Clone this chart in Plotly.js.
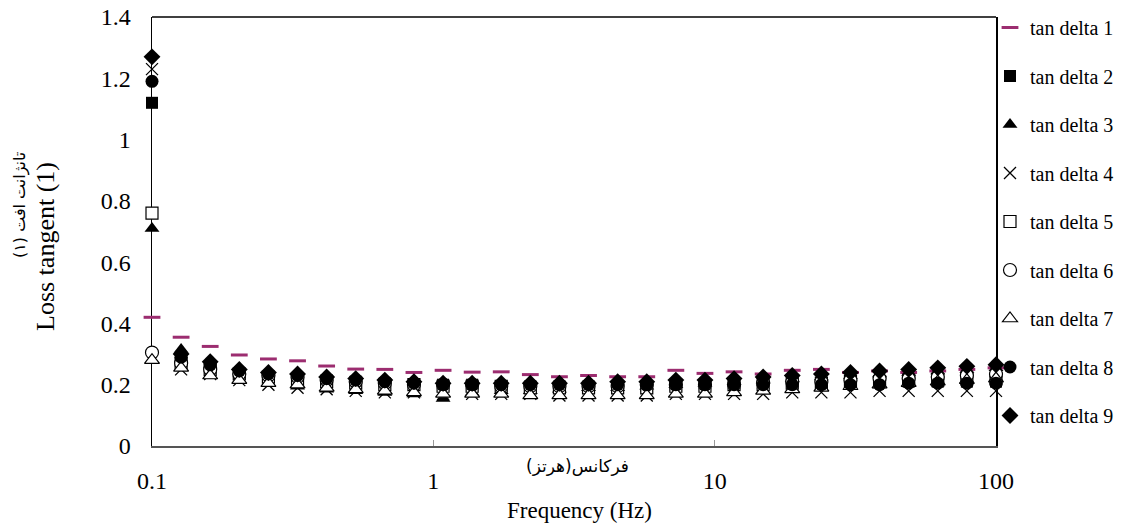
<!DOCTYPE html>
<html>
<head>
<meta charset="utf-8">
<script src="https://cdn.plot.ly/plotly-3.0.1.min.js"></script>
<style>html,body{margin:0;padding:0;background:#fff;}#chart{width:1131px;height:529px;}</style>
</head>
<body>
<div id="chart"></div>
<script>
// Frequency points (Hz), log sweep 0.1 - 100 Hz, 30 points
const freq = [0.1, 0.1269, 0.161, 0.2043, 0.2593, 0.3291, 0.4176, 0.5298, 0.6723, 0.8532,
  1.083, 1.374, 1.743, 2.212, 2.807, 3.562, 4.52, 5.736, 7.278, 9.236,
  11.72, 14.87, 18.87, 23.95, 30.39, 38.56, 48.93, 62.09, 78.79, 100];

const seriesNames = ["tan delta 1","tan delta 2","tan delta 3","tan delta 4","tan delta 5",
  "tan delta 6","tan delta 7","tan delta 8","tan delta 9"];

const td1 = [0.42, 0.355, 0.325, 0.297, 0.284, 0.278, 0.261, 0.251, 0.25, 0.24,
  0.247, 0.241, 0.242, 0.233, 0.226, 0.23, 0.226, 0.226, 0.247, 0.237,
  0.242, 0.235, 0.247, 0.25, 0.24, 0.245, 0.24, 0.245, 0.25, 0.255];
const td2 = [1.12, 0.28, 0.255, 0.235, 0.225, 0.22, 0.215, 0.21, 0.205, 0.2,
  0.2, 0.2, 0.195, 0.195, 0.195, 0.195, 0.195, 0.195, 0.2, 0.2,
  0.2, 0.205, 0.205, 0.205, 0.205, 0.21, 0.21, 0.21, 0.21, 0.21];
const td3 = [0.71, 0.315, 0.23, 0.215, 0.205, 0.195, 0.185, 0.18, 0.175, 0.17,
  0.155, 0.175, 0.18, 0.18, 0.185, 0.19, 0.19, 0.195, 0.2, 0.205,
  0.21, 0.215, 0.22, 0.225, 0.23, 0.235, 0.24, 0.245, 0.25, 0.255];
const td4 = [1.23, 0.25, 0.235, 0.215, 0.2, 0.19, 0.185, 0.18, 0.175, 0.175,
  0.17, 0.17, 0.17, 0.17, 0.165, 0.165, 0.165, 0.165, 0.17, 0.17,
  0.17, 0.17, 0.175, 0.175, 0.175, 0.18, 0.18, 0.18, 0.18, 0.18];
const td5 = [0.76, 0.27, 0.25, 0.235, 0.225, 0.215, 0.21, 0.205, 0.2, 0.2,
  0.195, 0.195, 0.195, 0.19, 0.19, 0.19, 0.19, 0.19, 0.195, 0.195,
  0.2, 0.2, 0.205, 0.205, 0.21, 0.21, 0.215, 0.215, 0.22, 0.22];
const td6 = [0.305, 0.27, 0.25, 0.235, 0.23, 0.225, 0.215, 0.21, 0.205, 0.2,
  0.2, 0.2, 0.195, 0.195, 0.195, 0.195, 0.195, 0.2, 0.2, 0.2,
  0.2, 0.205, 0.21, 0.21, 0.215, 0.22, 0.22, 0.225, 0.23, 0.235];
const td7 = [0.28, 0.255, 0.23, 0.215, 0.205, 0.2, 0.19, 0.185, 0.18, 0.175,
  0.17, 0.17, 0.17, 0.165, 0.165, 0.165, 0.165, 0.165, 0.17, 0.17,
  0.175, 0.18, 0.185, 0.19, 0.195, 0.2, 0.205, 0.21, 0.215, 0.22];
const td8 = [1.19, 0.29, 0.265, 0.245, 0.235, 0.23, 0.22, 0.215, 0.21, 0.205,
  0.2, 0.2, 0.2, 0.2, 0.2, 0.2, 0.2, 0.2, 0.2, 0.2,
  0.2, 0.2, 0.2, 0.2, 0.2, 0.2, 0.205, 0.205, 0.205, 0.205];
const td9 = [1.27, 0.3, 0.275, 0.25, 0.24, 0.235, 0.225, 0.22, 0.215, 0.21,
  0.205, 0.205, 0.205, 0.205, 0.205, 0.205, 0.21, 0.21, 0.215, 0.215,
  0.22, 0.225, 0.23, 0.235, 0.24, 0.245, 0.25, 0.255, 0.26, 0.265];

const xTickVals = [0.1, 1, 10, 100];
const xTickText = ["0.1", "1", "10", "100"];
const yTickVals = [0, 0.2, 0.4, 0.6, 0.8, 1, 1.2, 1.4];
const yTickText = ["0", "0.2", "0.4", "0.6", "0.8", "1", "1.2", "1.4"];

const allSeries = [td1, td2, td3, td4, td5, td6, td7, td8, td9];

const markerStyles = [
  {symbol: "line-ew", size: 12, color: "#9c2d70", line: {color: "#9c2d70", width: 3}},
  {symbol: "square", size: 12, color: "#000", line: {color: "#000", width: 0}},
  {symbol: "triangle-up", size: 13, color: "#000", line: {color: "#000", width: 0}},
  {symbol: "x-thin", size: 12, color: "#000", line: {color: "#000", width: 1.3}},
  {symbol: "square", size: 12, color: "#fff", line: {color: "#000", width: 1.2}},
  {symbol: "circle", size: 13, color: "#fff", line: {color: "#000", width: 1.2}},
  {symbol: "triangle-up", size: 13, color: "#fff", line: {color: "#000", width: 1.2}},
  {symbol: "circle", size: 13, color: "#000", line: {color: "#000", width: 0}},
  {symbol: "diamond", size: 13, color: "#000", line: {color: "#000", width: 0}}
];

const traces = allSeries.map((vals, i) => ({
  type: "scatter",
  mode: "markers",
  x: freq,
  y: vals,
  name: seriesNames[i],
  legendgroup: "g" + i,
  marker: markerStyles[i],
  cliponaxis: false
}));

const font = "'Liberation Serif', 'Times New Roman', serif";
const faFont = "'DejaVu Sans', 'Noto Sans', sans-serif";
const L = 152, R = 996, T = 17, B = 446;
const px = v => (v - L) / (R - L);
const py = v => (B - v) / (B - T);

const layout = {
  width: 1131, height: 529,
  margin: {l: L, r: 1131 - R, t: T, b: 529 - B, autoexpand: false},
  paper_bgcolor: "#fff", plot_bgcolor: "#fff",
  font: {family: font, size: 20, color: "#000"},
  showlegend: true,
  legend: {
    x: px(990), xanchor: "left", y: py(8), yanchor: "top",
    font: {family: font, size: 20, color: "#000"},
    tracegroupgap: 19.5, itemwidth: 30, bgcolor: "rgba(0,0,0,0)",
    maxheight: 525
  },
  xaxis: {
    type: "log", range: [-1, 2],
    tickvals: xTickVals, ticktext: xTickText,
    ticks: "inside", ticklen: 6, tickcolor: "#999",
    showgrid: false, zeroline: false,
    showline: true, linecolor: "#555", linewidth: 1.5,
    ticklabelstandoff: 13,
    tickfont: {family: font, size: 24},
    layer: "below traces"
  },
  yaxis: {
    range: [0, 1.4],
    tickvals: yTickVals, ticktext: yTickText,
    ticks: "", showgrid: false, zeroline: false,
    showline: true, linecolor: "#000", linewidth: 1.5, mirror: true,
    ticklabelstandoff: 15,
    tickfont: {family: font, size: 24},
    layer: "below traces"
  },
  shapes: [
    {type: "line", xref: "paper", yref: "paper", x0: 0, x1: 1, y0: 1, y1: 1, line: {color: "#000", width: 1.5}, layer: "below"}
  ],
  annotations: [
    {xref: "paper", yref: "paper", x: px(579), y: py(510), text: "Frequency (Hz)", showarrow: false,
     font: {family: font, size: 23}, xanchor: "center", yanchor: "middle"},
    {xref: "paper", yref: "paper", x: px(577), y: py(466), text: "فرکانس(هرتز)", showarrow: false,
     font: {family: faFont, size: 17}, xanchor: "center", yanchor: "middle"},
    {xref: "paper", yref: "paper", x: px(45), y: py(247), text: "Loss tangent (1)", showarrow: false, textangle: -90,
     font: {family: font, size: 26}, xanchor: "center", yanchor: "middle"},
    {xref: "paper", yref: "paper", x: px(20), y: py(205), text: "تانژانت افت (۱)", showarrow: false, textangle: -90,
     font: {family: faFont, size: 16}, xanchor: "center", yanchor: "middle"}
  ]
};

Plotly.newPlot("chart", traces, layout, {displayModeBar: false, staticPlot: true});
</script>
</body>
</html>
